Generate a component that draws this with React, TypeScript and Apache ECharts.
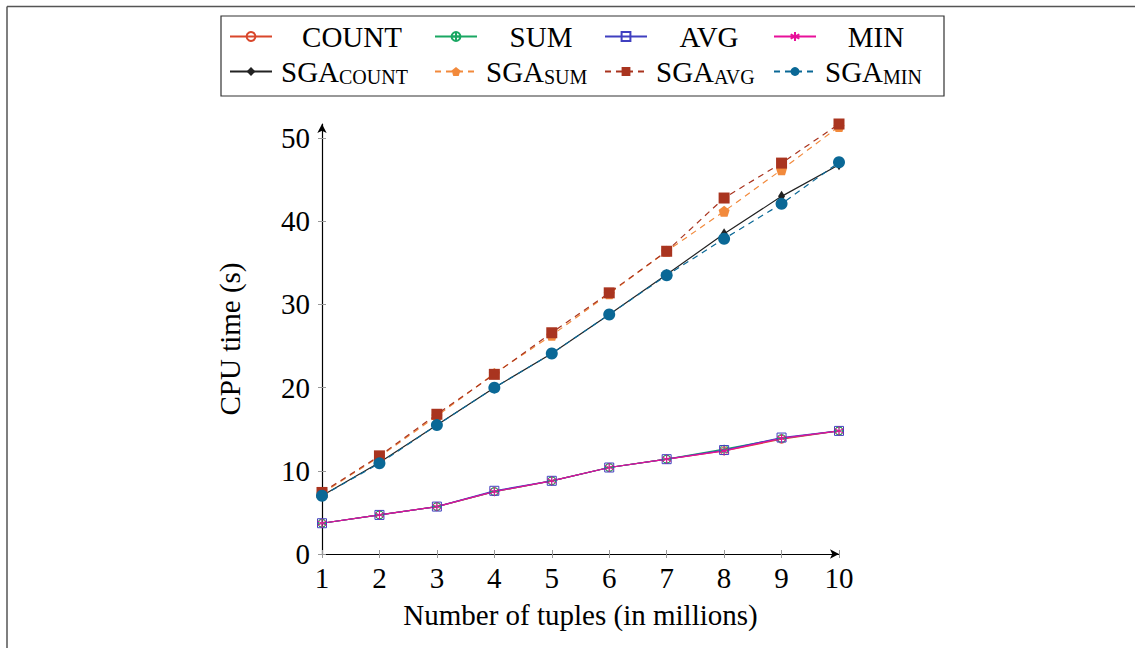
import React, { useEffect, useRef } from "react";
import * as echarts from "echarts";

const tuples = [1, 2, 3, 4, 5, 6, 7, 8, 9, 10];
const countVals = [3.7, 4.7, 5.7, 7.5, 8.8, 10.4, 11.4, 12.4, 13.8, 14.8];
const sumVals = [3.7, 4.7, 5.7, 7.5, 8.8, 10.4, 11.4, 12.6, 13.9, 14.8];
const avgVals = [3.7, 4.7, 5.7, 7.6, 8.8, 10.4, 11.4, 12.5, 14.0, 14.8];
const minVals = [3.7, 4.7, 5.7, 7.5, 8.8, 10.4, 11.4, 12.4, 13.9, 14.8];
const sgaCountVals = [7.0, 11.0, 15.5, 20.0, 24.1, 28.8, 33.6, 38.5, 43.0, 46.8];
const sgaSumVals = [7.3, 11.7, 16.6, 21.7, 26.3, 31.3, 36.4, 41.2, 46.2, 51.4];
const sgaAvgVals = [7.4, 11.8, 16.8, 21.6, 26.6, 31.4, 36.4, 42.8, 47.0, 51.7];
const sgaMinVals = [7.0, 10.9, 15.5, 20.0, 24.1, 28.8, 33.5, 37.9, 42.1, 47.1];
const yTicks = [0, 10, 20, 30, 40, 50];
const yMax = 51.7;

const FONT = "'Liberation Serif', 'Times New Roman', serif";
const FS = 29;

const PENTAGON = "path://M0,-10L9.5,-3.1L5.9,8.1L-5.9,8.1L-9.5,-3.1Z";
const ASTERISK = "path://M0,-10L0,10M-8.66,-5L8.66,5M-8.66,5L8.66,-5";
const OPLUS = "path://M-10,0A10,10,0,1,1,10,0A10,10,0,1,1,-10,0ZM0,-10L0,10M-10,0L10,0";

function pairs(vals: number[]) {
  return tuples.map((x, i) => [x, vals[i]]);
}

type Def = {
  name: string;
  vals: number[];
  color: string;
  symbol: string;
  size: number | number[];
  filled: boolean;
  dashed: boolean;
};

const defs: Def[] = [
  { name: "COUNT", vals: countVals, color: "#d9472b", symbol: "circle", size: 8, filled: false, dashed: false },
  { name: "SUM", vals: sumVals, color: "#1aa763", symbol: OPLUS, size: 8, filled: false, dashed: false },
  { name: "AVG", vals: avgVals, color: "#4040c0", symbol: "rect", size: 9, filled: false, dashed: false },
  { name: "MIN", vals: minVals, color: "#e8109a", symbol: ASTERISK, size: 9, filled: false, dashed: false },
  { name: "SGA_COUNT", vals: sgaCountVals, color: "#222222", symbol: "diamond", size: [7, 11], filled: true, dashed: false },
  { name: "SGA_SUM", vals: sgaSumVals, color: "#f28a3c", symbol: PENTAGON, size: 11, filled: true, dashed: true },
  { name: "SGA_AVG", vals: sgaAvgVals, color: "#a9341f", symbol: "rect", size: 11, filled: true, dashed: true },
  { name: "SGA_MIN", vals: sgaMinVals, color: "#0a6896", symbol: "circle", size: 12, filled: true, dashed: true },
];

// legend layout: [left, top, textWidth(for centered row)]
const legendPos: Record<string, [number, number, number]> = {
  COUNT: [229, 22, 150],
  SUM: [434, 22, 118],
  AVG: [604, 22, 114],
  MIN: [773, 22, 110],
  SGA_COUNT: [229, 57, 0],
  SGA_SUM: [434, 57, 0],
  SGA_AVG: [604, 57, 0],
  SGA_MIN: [773, 57, 0],
};

export default function App() {
  const ref = useRef<HTMLDivElement>(null);
  useEffect(() => {
    if (!ref.current) return;
    const chart = echarts.init(ref.current, null, { renderer: "svg" });

    const series = defs.map((d) => ({
      name: d.name,
      type: "line",
      data: pairs(d.vals),
      symbol: d.symbol,
      symbolSize: d.size,
      showSymbol: true,
      lineStyle: { color: d.color, width: 1.2, type: d.dashed ? [6, 5] : "solid" },
      itemStyle: d.filled
        ? { color: d.color, borderColor: d.color, borderWidth: 0 }
        : { color: "rgba(0,0,0,0)", borderColor: d.color, borderWidth: 1 },
      z: 2,
    }));

    const legends = defs.map((d) => {
      const [left, top, w] = legendPos[d.name];
      const sga = d.name.startsWith("SGA_");
      return {
        data: [d.name],
        left,
        top,
        padding: 0,
        itemWidth: 42,
        itemHeight: 11,
        selectedMode: false,
        formatter: (n: string) =>
          n.startsWith("SGA_") ? `{m|SGA}{s|${n.slice(4)}}` : `{c|${n}}`,
        textStyle: {
          fontFamily: FONT,
          fontSize: FS,
          color: "#000",
          padding: sga ? [0, 0, 0, 4] : 0,
          rich: {
            c: { fontFamily: FONT, fontSize: FS, width: w || 100, align: "center", lineHeight: 30 },
            m: { fontFamily: FONT, fontSize: FS, lineHeight: 30 },
            s: { fontFamily: FONT, fontSize: 20, lineHeight: 9, verticalAlign: "bottom" },
          },
        },
      };
    });

    const option: any = {
      animation: false,
      backgroundColor: "#fff",
      textStyle: { fontFamily: FONT },
      legend: legends,
      grid: { left: 322, right: 296, top: 124, bottom: 94, containLabel: false },
      xAxis: [
        {
          type: "value",
          min: 1,
          max: 10,
          interval: 1,
          name: "Number of tuples (in millions)",
          nameLocation: "middle",
          nameGap: 46,
          nameTextStyle: { fontFamily: FONT, fontSize: FS, color: "#000" },
          axisLine: {
            show: true,
            onZero: false,
            lineStyle: { color: "#000", width: 1.2 },
            symbol: ["none", "arrow"],
            symbolSize: [7, 9],
          },
          axisTick: { show: true, length: 4, lineStyle: { color: "#999" } },
          axisLabel: { fontFamily: FONT, fontSize: FS, color: "#000", margin: 9 },
          splitLine: { show: false },
        },
        {
          type: "value",
          min: 1,
          max: 10,
          interval: 1,
          position: "bottom",
          axisLine: { show: false },
          axisTick: { show: true, inside: true, length: 4, lineStyle: { color: "#999" } },
          axisLabel: { show: false },
          splitLine: { show: false },
        },
      ],
      yAxis: [
        {
          type: "value",
          min: 0,
          max: yMax,
          name: "CPU time (s)",
          nameLocation: "middle",
          nameGap: 78,
          nameTextStyle: { fontFamily: FONT, fontSize: FS, color: "#000" },
          axisLine: {
            show: true,
            onZero: false,
            lineStyle: { color: "#000", width: 1.2 },
            symbol: ["none", "arrow"],
            symbolSize: [7, 9],
          },
          axisTick: { show: true, length: 4, lineStyle: { color: "#999" }, customValues: yTicks },
          axisLabel: { fontFamily: FONT, fontSize: FS, color: "#000", margin: 12, customValues: yTicks },
          splitLine: { show: false },
        },
        {
          type: "value",
          min: 0,
          max: yMax,
          position: "left",
          axisLine: { show: false },
          axisTick: { show: true, inside: true, length: 4, lineStyle: { color: "#999" }, customValues: yTicks },
          axisLabel: { show: false, customValues: yTicks },
          splitLine: { show: false },
        },
      ],
      graphic: [
        { type: "line", shape: { x1: 7, y1: 6.5, x2: 1135, y2: 6.5 }, style: { stroke: "#555", lineWidth: 1.5 }, silent: true },
        { type: "line", shape: { x1: 7, y1: 6.5, x2: 7, y2: 648 }, style: { stroke: "#555", lineWidth: 1.5 }, silent: true },
        { type: "rect", shape: { x: 221, y: 16, width: 723, height: 80 }, style: { stroke: "#333", lineWidth: 1.2, fill: "none" }, silent: true, z: -1 },
      ],
      series,
    };
    chart.setOption(option);
    return () => chart.dispose();
  }, []);

  return (
    <div
      ref={ref}
      style={{ position: "fixed", left: 0, top: 0, width: 1135, height: 648, background: "#fff" }}
    />
  );
}
